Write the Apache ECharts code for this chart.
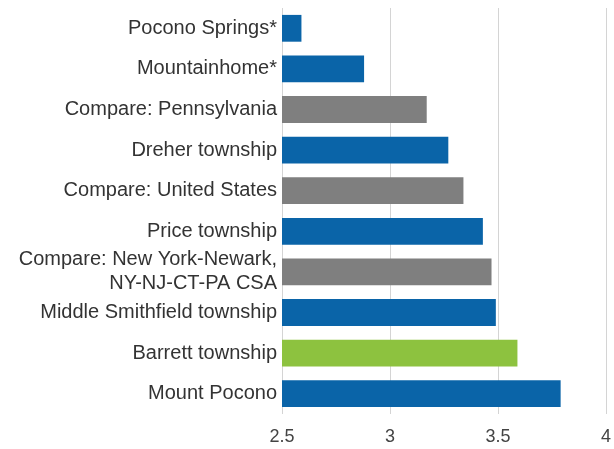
<!DOCTYPE html>
<html>
<head>
<meta charset="utf-8">
<script src="https://cdn.jsdelivr.net/npm/echarts@6/dist/echarts.min.js"></script>
<style>
  html, body { margin: 0; padding: 0; background: #fff; }
  #chart { width: 614px; height: 449px; }
</style>
</head>
<body>
<div id="chart"></div>
<script>
// categories, top to bottom
const categories = [
  'Pocono Springs*',
  'Mountainhome*',
  'Compare: Pennsylvania',
  'Dreher township',
  'Compare: United States',
  'Price township',
  'Compare: New York-Newark,\nNY-NJ-CT-PA CSA',
  'Middle Smithfield township',
  'Barrett township',
  'Mount Pocono'
]
const values = [2.59, 2.88, 3.17, 3.27, 3.34, 3.43, 3.47, 3.49, 3.59, 3.79]
// bar kind: place / compare / highlight
const kinds = ['place', 'place', 'compare', 'place', 'compare', 'place', 'compare', 'place', 'highlight', 'place']
const xTicks = [2.5, 3, 3.5, 4]

const kindColor = {
  place: '#0a64a8',
  compare: '#7f7f7f',
  highlight: '#8dc23f'
}

let chart = echarts.init(document.getElementById('chart'))

chart.setOption({
  animation: false,
  grid: {
    left: 282,
    right: 7,
    top: 8,
    bottom: 35
  },
  xAxis: {
    type: 'value',
    min: xTicks[0],
    max: xTicks[xTicks.length - 1],
    interval: 0.5,
    axisLine: { show: false },
    axisTick: { show: false },
    splitLine: { lineStyle: { color: '#d4d4d4', width: 1 } },
    axisLabel: {
      color: '#444',
      fontSize: 18,
      fontFamily: 'Liberation Sans, Arial, sans-serif',
      margin: 14
    }
  },
  yAxis: {
    type: 'category',
    inverse: true,
    data: categories,
    axisLine: { show: false },
    axisTick: { show: false },
    axisLabel: {
      color: '#333',
      fontSize: 20,
      lineHeight: 24,
      fontFamily: 'Liberation Sans, Arial, sans-serif',
      margin: 5,
      align: 'right'
    }
  },
  series: [{
    type: 'bar',
    barWidth: '66%',
    data: values.map((v, i) => ({
      value: v,
      itemStyle: { color: kindColor[kinds[i]] }
    }))
  }]
})
</script>
</body>
</html>
